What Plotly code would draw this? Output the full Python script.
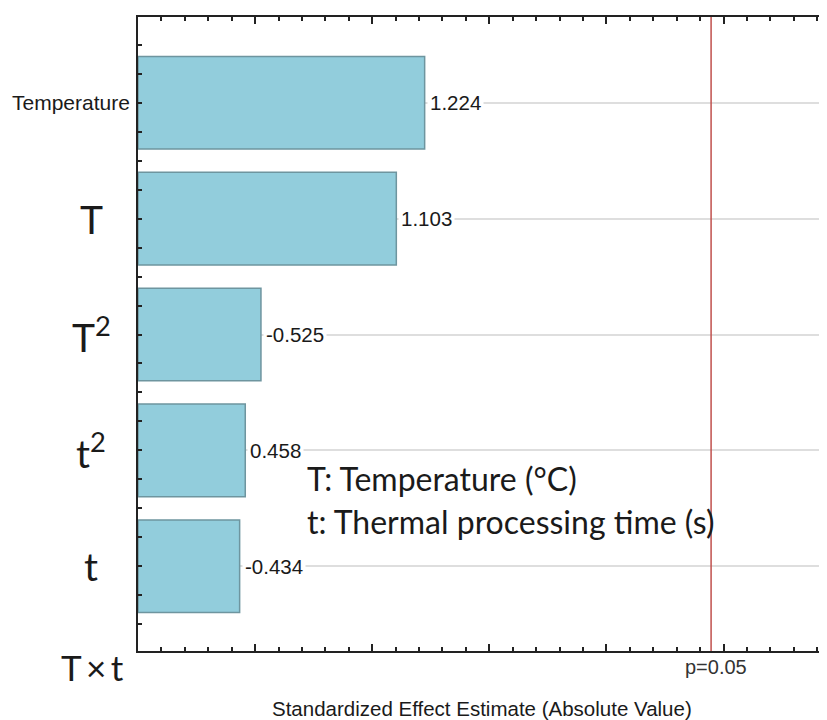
import plotly.graph_objects as go

# ---- data ----
factors = ["Temperature", "T", "T²", "t²", "t"]
factor_labels = ["Temperature", "T", "T<sup>2</sup>", "t<sup>2</sup>", "t"]
effects = [1.224, 1.103, -0.525, 0.458, -0.434]
extra_label = "T\u2009×\u2009t"
p_value_line = 2.447
p_label = "p=0.05"
x_title = "Standardized Effect Estimate (Absolute Value)"
note_lines = ["T: Temperature (°C)", "t: Thermal processing time (s)"]

W, H = 827, 720
OFF = 8  # page body margin offset
# reference pixel geometry (screenshot coords) converted to figure coords
PL, PT, PB, PR = 138 - OFF, 15 - OFF, 651 - OFF, 827 - OFF
L, T = PL, PT
R = W - PR
B = H - PB
PW, PH = PR - PL, PB - PT

ARIAL = "Liberation Sans, Arial, sans-serif"
CAL = "Lato, Carlito, Calibri, sans-serif"
TXT = "#1a1a1a"

ypos = list(range(len(factors)))
magn = [abs(e) for e in effects]

fig = go.Figure()
fig.add_trace(go.Bar(
    x=magn, y=ypos, orientation="h", width=0.8,
    marker=dict(color="#92CDDC", line=dict(color="#6E959F", width=1.5)),
    hoverinfo="skip", showlegend=False,
))

ann = []
# value labels
for i, (e, m) in enumerate(zip(effects, magn)):
    ann.append(dict(x=m, y=i, xref="x", yref="y", text=f"{e:.3f}", showarrow=False,
                    xanchor="left", yanchor="middle", xshift=2, bgcolor="white", borderpad=2,
                    font=dict(family=ARIAL, size=20.5, color=TXT)))
# category labels
for i, lab in enumerate(factor_labels):
    if i == 0:
        ann.append(dict(x=0, y=i, xref="paper", yref="y", text=lab, showarrow=False,
                        xanchor="right", yanchor="middle", xshift=-6,
                        font=dict(family=ARIAL, size=21, color=TXT)))
    else:
        ann.append(dict(x=0, y=i, xref="paper", yref="y", text=lab, showarrow=False,
                        xanchor="center", yanchor="middle", xshift=91 - 138,
                        font=dict(family=CAL, size=39, color=TXT)))
ann.append(dict(x=0, y=0, xref="paper", yref="paper", text=extra_label, showarrow=False,
                xanchor="center", yanchor="middle", xshift=92 - 138, yshift=-(667 - 651),
                font=dict(family=CAL, size=35, color=TXT)))
# notes
for k, line in enumerate(note_lines):
    ann.append(dict(x=(305 - 138) / PW, y=(651 - (478 + 43 * k)) / PH, xref="paper", yref="paper",
                    text=line, showarrow=False, xanchor="left", yanchor="middle",
                    font=dict(family=CAL, size=32, color=TXT)))
# p label
ann.append(dict(x=p_value_line, y=0, xref="x", yref="paper", text=p_label, showarrow=False,
                xanchor="center", yanchor="middle", xshift=5, yshift=-(667 - 651),
                font=dict(family=ARIAL, size=20, color="#333333")))
# x title
ann.append(dict(x=(482 - 138) / PW, y=0, xref="paper", yref="paper", text=x_title, showarrow=False,
                xanchor="center", yanchor="middle", yshift=-(708 - 651),
                font=dict(family=ARIAL, size=20.5, color=TXT)))

fig.add_shape(type="line", xref="x", yref="paper", x0=p_value_line, x1=p_value_line, y0=0, y1=1,
              line=dict(color="#C0504D", width=1.5), layer="above")

fig.update_layout(
    width=W, height=H, margin=dict(l=L, r=R, t=T, b=B),
    paper_bgcolor="white", plot_bgcolor="white",
    annotations=ann, bargap=0.2,
    xaxis=dict(range=[0, PW / 234.2], showgrid=False, zeroline=False,
               showline=True, linecolor="#222", linewidth=1.5, mirror="ticks",
               ticks="inside", ticklen=7, tickcolor="#222", tickwidth=1.5, dtick=0.5, tick0=0,
               showticklabels=False,
               minor=dict(ticks="inside", ticklen=4, dtick=0.1, tickcolor="#222", showgrid=False)),
    yaxis=dict(range=[4 + (651 - 566) / 116.25, -(101 - 15) / 116.25], autorange=False,
               tickvals=ypos, showticklabels=False, showgrid=True, gridcolor="#DEDEDE", gridwidth=2,
               zeroline=False, showline=True, linecolor="#222", linewidth=1.5,
               ticks="inside", ticklen=4, tickcolor="#222", tickwidth=1.5,
               minor=dict(ticks="inside", ticklen=4, dtick=0.25, tick0=0, tickcolor="#222", showgrid=False)),
)

fig.write_html("out.html")
